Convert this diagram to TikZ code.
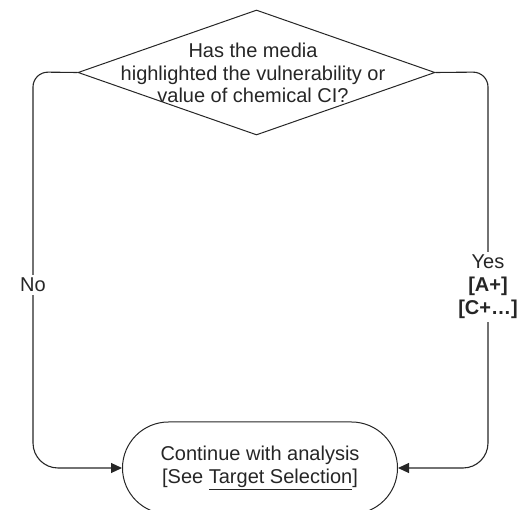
\documentclass[tikz,border=0pt]{standalone}
\usepackage{fontspec}
\setmainfont{Liberation Sans}
\usetikzlibrary{shapes.geometric,shapes.misc,arrows.meta}
\begin{document}
\begin{tikzpicture}[x=1pt,y=-1pt,
  shapeline/.style={draw=black!85, line width=1pt},
  conn/.style={draw=black!85, line width=1.1pt, -{Triangle[length=11pt,width=10pt]}},
  txt/.style={text=black!85, font=\fontsize{20}{22.5}\selectfont, align=center, inner sep=0pt},
  lbl/.style={fill=white, inner sep=3pt, text=black!85, font=\fontsize{20}{23}\selectfont, align=center}]
\useasboundingbox (0,0) rectangle (531,510);
\node[shapeline, diamond, minimum width=357pt, minimum height=125pt, aspect=2.856, inner sep=0pt] (q) at (256.5,72.5) {};
\node[txt] (qt) at (253,73) {Has the media\\highlighted the vulnerability or\\value of chemical CI?};
\node[shapeline, rounded rectangle, minimum width=275pt, minimum height=92pt, txt] (t) at (260,468) {Continue with analysis\\{[See \underline{Target Selection}]}};
\coordinate (lc) at (33,72);
\coordinate (lb) at (33,468);
\coordinate (rc) at (488,72);
\coordinate (rb) at (488,468);
\draw[conn] (q.west) [rounded corners=15pt] -- (lc) [rounded corners=25pt] -- (lb) -- (t.west);
\draw[conn] (q.east) [rounded corners=15pt] -- (rc) [rounded corners=25pt] -- (rb) -- (t.east);
\node[lbl] (no) at (33,285) {No};
\node[lbl] (yes) at (488,287) {Yes\\\textbf{[A+]}\\\textbf{[C+…]}};
\end{tikzpicture}
\end{document}
